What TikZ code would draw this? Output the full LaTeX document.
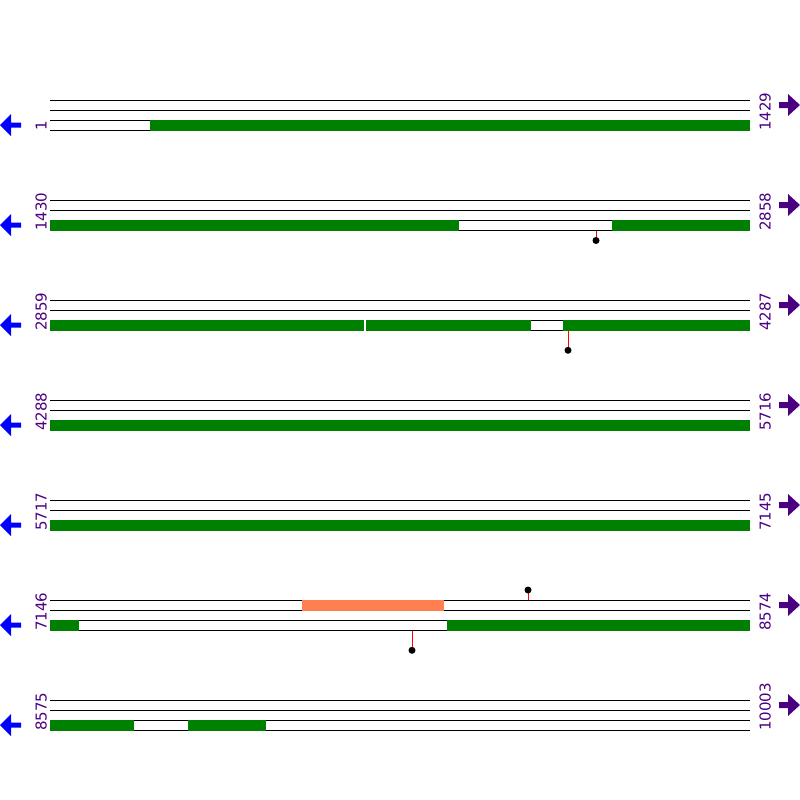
\documentclass[tikz,border=0pt]{standalone}
\usepackage{fontspec}
\setmainfont{DejaVu Sans}
\definecolor{gbar}{HTML}{008000}
\definecolor{lbl}{HTML}{4B0082}
\definecolor{orng}{HTML}{FF7F50}
\tikzset{
  trk/.style={black, line width=1pt},
  gbox/.style={fill=gbar, draw=none},
  wbox/.style={fill=white, draw=none},
  obox/.style={fill=orng, draw=none},
  lab/.style={text=lbl, rotate=90, anchor=base west, inner sep=0pt, font=\fontsize{15}{15}\selectfont},
  larr/.style={fill=blue, draw=none},
  rarr/.style={fill=lbl, draw=none},
  stem/.style={red, line width=1pt},
  dot/.style={circle, fill=black, inner sep=0pt, minimum size=7pt}
}
\begin{document}
\begin{tikzpicture}[x=1pt,y=-1pt]
\useasboundingbox (0,0) rectangle (800,800);
\foreach \t/\a/\b in {100/1/1429,200/1430/2858,300/2859/4287,400/4288/5716,500/5717/7145,600/7146/8574,700/8575/10003}{
  \foreach \d in {0,10,20,30} \draw[trk] (50,\t+\d) -- (750,\t+\d);
  \node[lab] (l\t) at (46.5,\t+31) {\a};
  \node[lab] (r\t) at (770.5,\t+31) {\b};
  \fill[larr] (0,\t+25) -- (11,\t+14) -- (11,\t+22.5) -- (21,\t+22.5) -- (21,\t+27.5) -- (11,\t+27.5) -- (11,\t+36) -- cycle;
  \fill[rarr] (800,\t+5) -- (788,\t-6) -- (788,\t+2) -- (779,\t+2) -- (779,\t+8) -- (788,\t+8) -- (788,\t+16) -- cycle;
}
% track 1
\fill[gbox] (150,119.5) rectangle (750,130.5);
% track 2
\fill[gbox] (50,219.5) rectangle (459,230.5);
\fill[gbox] (612,219.5) rectangle (750,230.5);
\draw[stem] (596,230.5) -- (596,240);
\node[dot] (d2) at (596,240.5) {};
% track 3
\fill[gbox] (50,319.5) rectangle (531,330.5);
\fill[gbox] (563,319.5) rectangle (750,330.5);
\fill[wbox] (364,319.5) rectangle (366,330.5);
\draw[stem] (568,330.5) -- (568,350);
\node[dot] (d3) at (568,350.3) {};
% track 4, 5
\fill[gbox] (50,419.5) rectangle (750,430.5);
\fill[gbox] (50,519.5) rectangle (750,530.5);
% track 6
\fill[obox] (302,599.5) rectangle (444,610.5);
\draw[stem] (528,599.5) -- (528,590);
\node[dot] (d6a) at (528,590) {};
\fill[gbox] (50,619.5) rectangle (79,630.5);
\fill[gbox] (447,619.5) rectangle (750,630.5);
\draw[stem] (412,630.5) -- (412,650);
\node[dot] (d6b) at (412,650.3) {};
% track 7
\fill[gbox] (50,719.5) rectangle (134,730.5);
\fill[gbox] (188,719.5) rectangle (266,730.5);
\end{tikzpicture}
\end{document}
